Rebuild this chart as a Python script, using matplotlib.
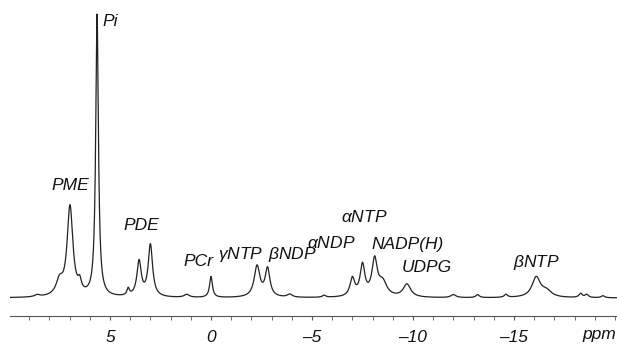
import numpy as np
import matplotlib
matplotlib.use("Agg")
import matplotlib.pyplot as plt
from matplotlib.ticker import MultipleLocator

# peak list: position (ppm), height (arb.), FWHM (ppm)
PEAK_PPM = [7.5, 6.98, 6.5, 5.64, 4.1, 3.56, 3.0, 0.0, -2.28, -2.8,
            -7.0, -7.5, -8.1, -8.5, -9.7, -16.1, -16.6, -18.3, -12.0, -3.9,
            8.6, 1.2, -5.6, -13.2, -14.6, -18.6, -19.4]
PEAK_HEIGHT = [14, 90, 10, 282, 7, 35, 52, 21, 31, 28,
               18, 31, 36, 14, 13, 20, 6, 4, 3, 3,
               2, 3, 2, 3, 3, 3, 2]
PEAK_WIDTH = [0.4, 0.34, 0.2, 0.16, 0.15, 0.26, 0.26, 0.17, 0.34, 0.28,
              0.28, 0.28, 0.32, 0.5, 0.45, 0.5, 0.6, 0.2, 0.3, 0.3,
              0.3, 0.3, 0.2, 0.2, 0.2, 0.2, 0.2]

LABELS = ["Pi", "PME", "PDE", "PCr", r"$\gamma$NTP", r"$\beta$NDP", r"$\alpha$NDP",
          r"$\alpha$NTP", "NADP(H)", "UDPG", r"$\beta$NTP"]
LABEL_PPM = [5.35, 6.98, 3.45, 0.6, -1.45, -4.05, -5.95, -7.6, -9.75, -10.7, -16.1]
LABEL_Y = [276, 112, 72, 37, 43, 43, 55, 81, 53, 31, 35]
LABEL_HA = ["left"] + ["center"] * 10

TICK_LABELS = [5, 0, -5, -10, -15]

plt.rcParams["mathtext.fontset"] = "custom"
plt.rcParams["mathtext.it"] = "Liberation Sans:italic"
plt.rcParams["mathtext.rm"] = "Liberation Sans:italic"

fig = plt.figure(figsize=(6.17, 3.45), dpi=100)
ax = fig.add_axes([10 / 617, 29 / 345, 607 / 617, 316 / 345])

x = np.linspace(9.95, -20.1, 3000)
y = np.zeros_like(x)
for p, h, w in zip(PEAK_PPM, PEAK_HEIGHT, PEAK_WIDTH):
    y += h / (1 + ((x - p) / (w / 2)) ** 2)

ax.plot(x, y, color="#222222", lw=0.9)
ax.set_xlim(9.95, -20.1)
ax.set_ylim(-18, 298)

font = dict(family="Liberation Sans", style="italic", fontsize=12.5, color="#111111")
for lab, px, py, ha in zip(LABELS, LABEL_PPM, LABEL_Y, LABEL_HA):
    ax.text(px, py, lab, ha=ha, va="center", **font)

for s in ["top", "right", "left"]:
    ax.spines[s].set_visible(False)
ax.spines["bottom"].set_color("#555555")
ax.spines["bottom"].set_linewidth(0.8)
ax.set_yticks([])
ax.xaxis.set_minor_locator(MultipleLocator(1))
ax.set_xticks(TICK_LABELS)
ax.set_xticklabels([str(t).replace("-", "\u2013") for t in TICK_LABELS], **font)
ax.tick_params(axis="x", which="both", direction="out", length=3, color="#555555", pad=7)
ax.text(-19.2, -37, "ppm", ha="center", va="center", clip_on=False, **font)

fig.savefig("out.png", dpi=100)
